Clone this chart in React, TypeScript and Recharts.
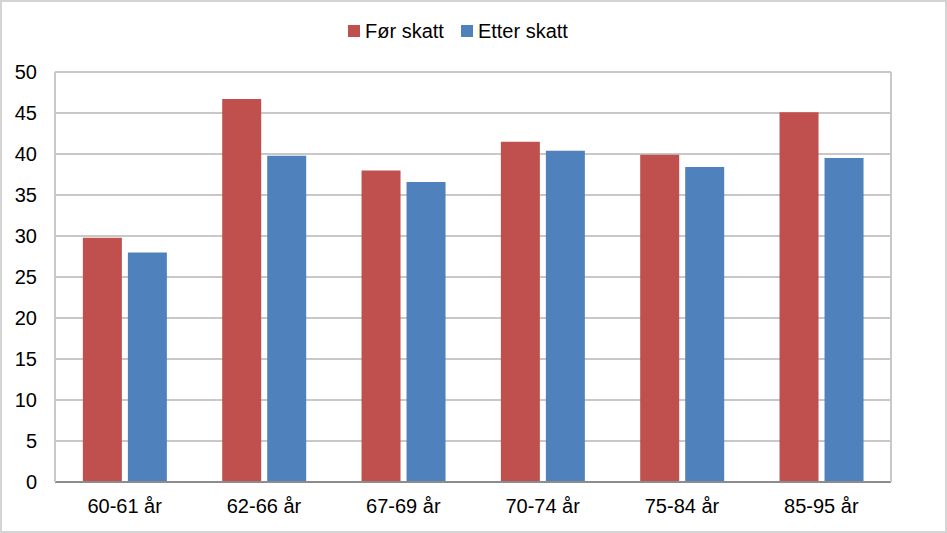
import React from "react";
import { BarChart, Bar, XAxis, YAxis, CartesianGrid } from "recharts";

const categories = ["60-61 år", "62-66 år", "67-69 år", "70-74 år", "75-84 år", "85-95 år"];
const forSkatt = [29.8, 46.7, 38.0, 41.5, 39.9, 45.1];
const etterSkatt = [28.0, 39.8, 36.6, 40.4, 38.4, 39.5];
const yTicks = [0, 5, 10, 15, 20, 25, 30, 35, 40, 45, 50];
const seriesNames = ["Før skatt", "Etter skatt"];
const seriesColors = ["#C0504D", "#4F81BD"];

const data = categories.map((c, i) => ({ name: c, a: forSkatt[i], b: etterSkatt[i] }));

const FONT = "'Liberation Sans', Arial, sans-serif";
const W = 947;
const H = 533;

export default function App() {
  const tickStyle = { fill: "#000", fontSize: 20, fontFamily: FONT };
  return (
    <div style={{ position: "absolute", left: 0, top: 0, width: W, height: H, background: "#fff", fontFamily: FONT }}>
      <BarChart
        width={W}
        height={H}
        data={data}
        margin={{ top: 72, right: 0, bottom: 0, left: 0 }}
        barCategoryGap="20%"
        barGap={6}
      >
        <CartesianGrid vertical={false} horizontal stroke="#C8C8C8" strokeWidth={2} yAxisId="left" />
        <XAxis
          dataKey="name"
          tickLine={false}
          tickSize={0}
          tickMargin={17}
          axisLine={{ stroke: "#8C8C8C", strokeWidth: 2 }}
          tick={tickStyle}
          interval={0}
          height={51}
        />
        <YAxis
          yAxisId="left"
          orientation="left"
          domain={[0, 50]}
          ticks={yTicks}
          width={55}
          tickLine={false}
          tickSize={0}
          tickMargin={18}
          axisLine={{ stroke: "#C8C8C8", strokeWidth: 2 }}
          tick={tickStyle}
          interval={0}
        />
        <YAxis
          yAxisId="right"
          orientation="right"
          domain={[0, 50]}
          ticks={yTicks}
          width={56}
          tickLine={false}
          tickSize={0}
          tickMargin={17}
          axisLine={{ stroke: "#C8C8C8", strokeWidth: 2 }}
          tick={tickStyle}
          interval={0}
        />
        <Bar yAxisId="left" dataKey="a" name={seriesNames[0]} fill={seriesColors[0]} isAnimationActive={false} />
        <Bar yAxisId="left" dataKey="b" name={seriesNames[1]} fill={seriesColors[1]} isAnimationActive={false} />
      </BarChart>
      <div
        style={{
          position: "absolute",
          left: 348,
          top: 20,
          display: "flex",
          alignItems: "center",
          fontSize: 20,
          lineHeight: "22px",
          fontFamily: FONT,
          color: "#000",
          whiteSpace: "nowrap",
        }}
      >
        {seriesNames.map((n, i) => (
          <div key={n} style={{ display: "flex", alignItems: "center", marginRight: i === 0 ? 17 : 0 }}>
            <span style={{ display: "inline-block", width: 12, height: 12, background: seriesColors[i], marginRight: 5 }} />
            <span>{n}</span>
          </div>
        ))}
      </div>
      <div
        style={{
          position: "absolute",
          left: 0,
          top: 0,
          width: W,
          height: H,
          boxSizing: "border-box",
          border: "2px solid #D4D4D4",
          pointerEvents: "none",
        }}
      />
    </div>
  );
}
